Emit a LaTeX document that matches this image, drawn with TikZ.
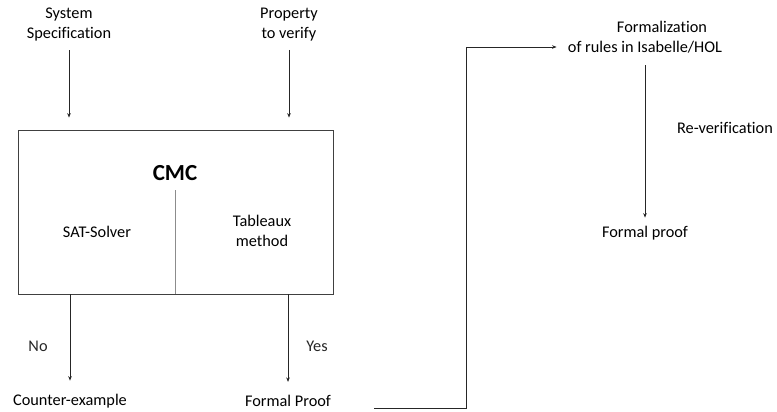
\documentclass[tikz,border=0pt]{standalone}
\usepackage{fontspec}
\setmainfont{Carlito}[Ligatures=CommonOff]
\usetikzlibrary{arrows.meta,positioning}

\begin{document}
\begin{tikzpicture}[x=1pt,y=-1pt]
\tikzset{line width=0.8pt,>={Stealth[length=4.5pt,width=3.6pt]},
  lbl/.style={inner sep=0pt,align=center,font=\fontsize{16.3}{20}\selectfont},
  arr/.style={->,black!85},
  box/.style={draw=black!75,minimum width=315pt,minimum height=164pt,inner sep=0pt}}
\useasboundingbox (0,0) rectangle (777,412);

% inputs
\node[lbl] (spec) at (69,25) {System\\Specification};
\node[lbl] (prop) at (289,25) {Property\\to verify};

% the checker
\node[box] (cmc) at (175.5,212) {};
\node[lbl,font=\bfseries\fontsize{23}{26}\selectfont] (title) at (175,173) {CMC};
\coordinate (divtop) at (175,190);
\draw[black!45,line width=0.6pt] (divtop) -- (divtop |- cmc.south);
\node[lbl] (sat) at (97,232) {SAT-Solver};
\node[lbl] (tab) at (262,231) {Tableaux\\method};

\draw[arr,shorten <=8pt,shorten >=12pt] (spec.south) -- (spec.south |- cmc.north);
\draw[arr,shorten <=8pt,shorten >=12pt] (prop.south) -- (prop.south |- cmc.north);

% results
\node[lbl] (counter) at (70,401) {Counter-example};
\node[lbl] (proof) at (288,401) {Formal Proof};
\draw[arr,shorten >=13pt] (counter |- cmc.south) -- node[lbl,pos=0.52,left=22pt] (no) {No} (counter);
\draw[arr,shorten >=13pt] (proof |- cmc.south) -- node[lbl,pos=0.52,right=18pt] (yes) {Yes} (proof);

% re-verification
\node[lbl] (form) at (645,37) {\hspace*{34pt}Formalization\\of rules in Isabelle/HOL};
\node[lbl] (proof2) at (645,233) {Formal proof};
\node[lbl] (rever) at (725,128) {Re-verification};
\coordinate (from) at (374,408);
\coordinate (into) at ([xshift=-11pt,yshift=-10pt]form.west);
\draw[arr] (from) -- (466,408) |- (into);
\draw[arr,shorten <=12pt,shorten >=8pt] (proof2 |- form.south) -- (proof2);
\end{tikzpicture}
\end{document}
